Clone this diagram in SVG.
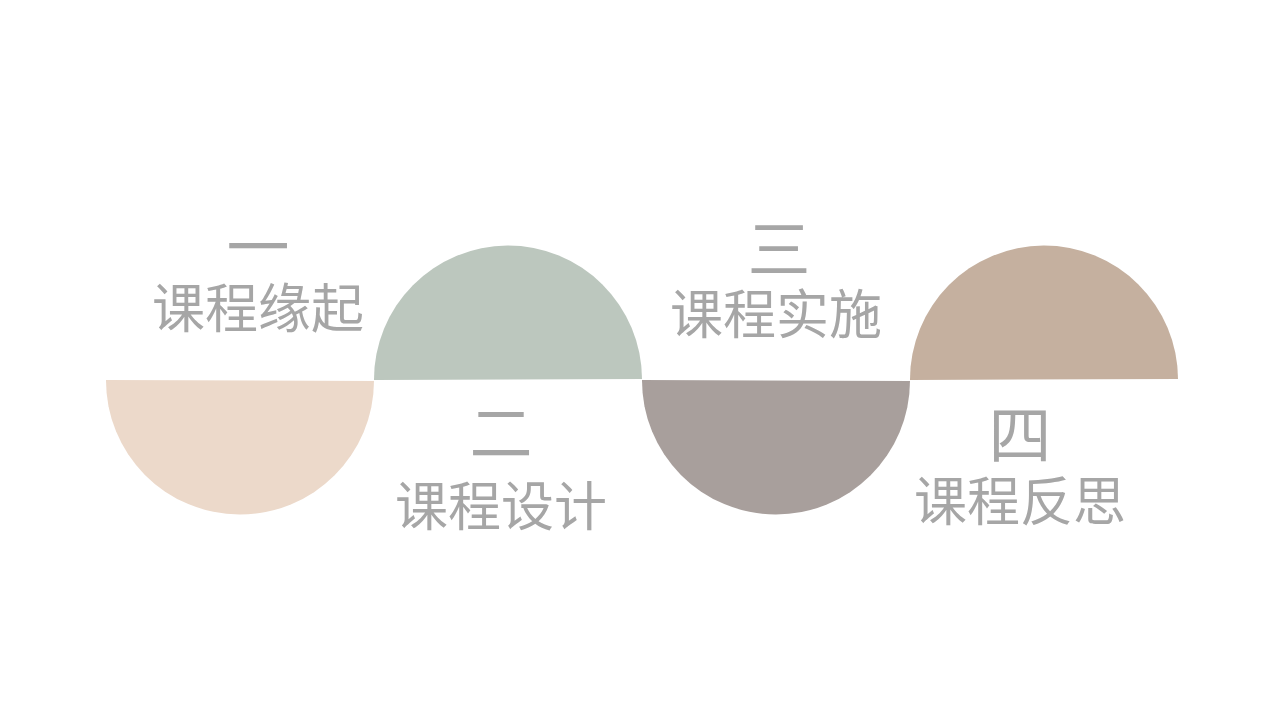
<svg xmlns="http://www.w3.org/2000/svg" width="1280" height="720" viewBox="0 0 1280 720">
<style>
.num{font-family:"Noto Sans CJK SC","Noto Sans CJK JP",sans-serif;font-size:63px;fill:#A6A6A6;text-anchor:middle}
.lbl{font-family:"Noto Sans CJK SC","Noto Sans CJK JP",sans-serif;font-size:53px;fill:#A6A6A6;text-anchor:middle}
</style>
<rect width="1280" height="720" fill="#FFFFFF"/>
<g id="node1">
<path d="M106 380 L374 381 A134 134 0 0 1 106 380 Z" fill="#ECD9CA"/>
<text class="num" x="258" y="270">一</text>
<text class="lbl" x="258" y="328">课程缘起</text>
</g>
<g id="node2">
<path d="M374 380 A134 134 0 0 1 642 379 Z" fill="#BCC7BE"/>
<text class="num" x="501" y="456">二</text>
<text class="lbl" x="501" y="526">课程设计</text>
</g>
<g id="node3">
<path d="M642 380 L910 381 A134 134 0 0 1 642 380 Z" fill="#A89F9C"/>
<text class="num" x="779" y="272">三</text>
<text class="lbl" x="776" y="334">课程实施</text>
</g>
<g id="node4">
<path d="M910 380 A134 134 0 0 1 1178 379 Z" fill="#C5B09F"/>
<text class="num" x="1020" y="458">四</text>
<text class="lbl" x="1020" y="521">课程反思</text>
</g>
<g id="connectors"></g>
</svg>
